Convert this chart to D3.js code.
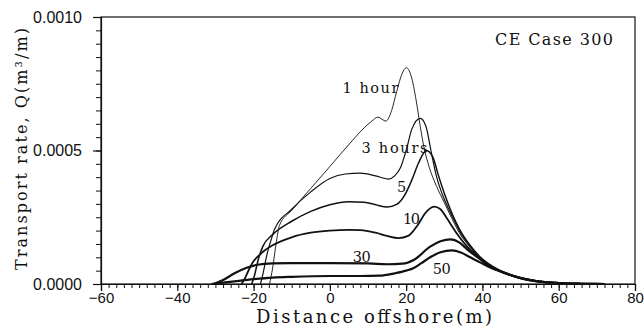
<!DOCTYPE html>
<html>
<head>
<meta charset="utf-8">
<script src="https://cdn.jsdelivr.net/npm/d3@7"></script>
<style>
  html, body { margin: 0; padding: 0; background: #fff; }
  svg { display: block; }
  .tick text { font-family: "Liberation Sans", Arial, sans-serif; fill: #111; }
  .serif { font-family: "DejaVu Serif", "Liberation Serif", serif; fill: #111; }
</style>
</head>
<body>
<svg id="chart" width="644" height="329"></svg>
<script>
// ---- Data (distance offshore in m, transport rate in 1e-4 m^3/m) ----
const seriesNames = ["1 hour", "3 hours", "5", "10", "30", "50"];

const dist1 = [-15.8, -15.0, -14.1, -13.2, -10, -5, 0, 6, 9, 11, 12.6, 14.7, 16.2, 17.5, 19, 20, 21.3, 22.6, 23.7, 24.7, 26, 28, 30, 32, 34, 36.5, 39.5, 44.7, 50, 55, 60, 66, 72];
const q1    = [0, 0.6, 1.5, 2.2, 2.76, 3.58, 4.4, 5.39, 5.85, 6.1, 6.25, 6.1, 6.5, 7.2, 7.9, 8.1, 7.8, 6.9, 5.9, 5.1, 4.4, 3.65, 3.05, 2.45, 1.9, 1.42, 0.93, 0.47, 0.22, 0.09, 0.036, 0.01, 0];

const dist3 = [-18.2, -17.5, -16.5, -15.3, -14.5, -10, -5, 0, 4, 8, 12, 15.3, 17, 18.5, 20, 21.5, 23.7, 25.2, 26.5, 28, 29.5, 32, 34, 36.5, 39.5, 44.7, 50, 55, 60, 66, 72];
const q3    = [0, 0.4, 1.1, 1.7, 2.05, 2.8, 3.45, 3.95, 4.12, 4.15, 4.05, 3.93, 4.05, 4.35, 5.0, 5.8, 6.2, 5.9, 5.0, 4.0, 3.35, 2.55, 1.98, 1.46, 0.96, 0.49, 0.23, 0.095, 0.038, 0.011, 0];

const dist5 = [-20.5, -19.8, -18.8, -17.6, -15, -10, -5, 0, 5, 9, 12, 15, 17.5, 19.7, 21.5, 23.3, 25.3, 27, 28.5, 30, 32, 34, 36.5, 39.5, 44.7, 50, 55, 60, 66, 72];
const q5    = [0, 0.3, 0.9, 1.4, 1.85, 2.35, 2.72, 2.97, 3.08, 3.06, 2.97, 2.88, 2.98, 3.35, 3.9, 4.55, 5.0, 4.75, 4.05, 3.4, 2.65, 2.05, 1.5, 1.0, 0.5, 0.24, 0.1, 0.04, 0.012, 0];

const dist10 = [-23.2, -22.5, -21.5, -20.3, -18, -15, -10, -5, 0, 5, 8, 12, 15, 18, 20.5, 23, 25, 27.3, 29, 30.5, 33, 36, 39.5, 44.7, 50, 55, 60, 66, 72];
const q10    = [0, 0.15, 0.45, 0.79, 1.15, 1.45, 1.75, 1.92, 2.0, 2.03, 2.02, 1.92, 1.8, 1.72, 1.8, 2.2, 2.65, 2.9, 2.8, 2.5, 1.95, 1.4, 0.92, 0.46, 0.22, 0.09, 0.035, 0.01, 0];

const dist30 = [-30.5, -28, -25, -22, -19, -15, -10, 0, 10, 15, 19, 22, 26.3, 29, 31.6, 34, 36, 39.5, 42, 45, 50, 55, 60, 66, 72];
const q30    = [0, 0.15, 0.4, 0.6, 0.72, 0.77, 0.78, 0.78, 0.77, 0.74, 0.76, 0.9, 1.4, 1.6, 1.67, 1.55, 1.3, 0.92, 0.68, 0.47, 0.22, 0.09, 0.035, 0.01, 0];

const dist50 = [-31, -28, -25, -20, -15, -10, 0, 8, 13, 17, 20, 22, 24, 26.3, 29, 32, 34.5, 36.8, 39.5, 42, 45, 50, 55, 60, 66, 72];
const q50    = [0, 0.05, 0.1, 0.18, 0.24, 0.27, 0.3, 0.3, 0.31, 0.4, 0.5, 0.6, 0.78, 1.0, 1.19, 1.26, 1.17, 1.0, 0.8, 0.62, 0.46, 0.22, 0.09, 0.035, 0.01, 0];

const xTicks = [-60, -40, -20, 0, 20, 40, 60, 80];
const yTicks = [0, 0.0005, 0.0010];

// label anchor points (data coordinates)
const labelDist = [3.3, 8.3, 17.6, 19.2, 6.0, 27.0];
const labelQ    = [7.15, 4.9, 3.45, 2.25, 0.82, 0.37];

const seriesDist = [dist1, dist3, dist5, dist10, dist30, dist50];
const seriesQ = [q1, q3, q5, q10, q30, q50];

// ---- Drawing ----
const svg = d3.select("#chart");
const mLeft = 101, mRight = 635, mTop = 17, mBottom = 284;

const x = d3.scaleLinear().domain([-60, 80]).range([mLeft, mRight]);
const y = d3.scaleLinear().domain([0, 0.0010]).range([mBottom, mTop]);

const widths = [0.9, 1.2, 1.5, 1.8, 2.2, 2.2];
const labelLens = [56, 66, 10, 17, 18, 18];

// frame
svg.append("rect")
  .attr("x", mLeft).attr("y", mTop)
  .attr("width", mRight - mLeft).attr("height", mBottom - mTop)
  .attr("fill", "none").attr("stroke", "#111").attr("stroke-width", 1.2);

// y axis minor ticks
const yMinor = d3.range(0, 0.00100001, 0.00005);
svg.append("g").attr("transform", `translate(${mLeft},0)`)
  .call(d3.axisLeft(y).tickValues(yMinor).tickSize(5).tickFormat(""))
  .call(g => g.select(".domain").remove())
  .selectAll("line").attr("stroke", "#111").attr("stroke-width", 1);

// y axis majors
const yAxis = svg.append("g").attr("transform", `translate(${mLeft},0)`)
  .call(d3.axisLeft(y).tickValues(yTicks).tickSize(8).tickPadding(11).tickFormat(d3.format(".4f")));
yAxis.select(".domain").attr("stroke", "#111").attr("stroke-width", 1.2);
yAxis.selectAll("line").attr("stroke", "#111").attr("stroke-width", 1.2);
yAxis.selectAll("text").attr("font-size", 16).attr("fill", "#111");

// x axis minor ticks
const xMinor = d3.range(-60, 80.001, 2);
svg.append("g").attr("transform", `translate(0,${mBottom})`)
  .call(d3.axisBottom(x).tickValues(xMinor).tickSize(4).tickFormat(""))
  .call(g => g.select(".domain").remove())
  .selectAll("line").attr("stroke", "#111").attr("stroke-width", 1);

// x axis majors
const xAxis = svg.append("g").attr("transform", `translate(0,${mBottom})`)
  .call(d3.axisBottom(x).tickValues(xTicks).tickSize(7).tickPadding(1)
    .tickFormat(d => d < 0 ? "\u2212" + Math.abs(d) : String(d)));
xAxis.select(".domain").attr("stroke", "#111").attr("stroke-width", 1.2);
xAxis.selectAll("line").attr("stroke", "#111").attr("stroke-width", 1.2);
xAxis.selectAll("text").attr("font-size", 15).attr("fill", "#111");

// lines
const line = d3.line()
  .x(d => x(d[0]))
  .y(d => y(d[1] * 1e-4))
  .curve(d3.curveMonotoneX);

seriesDist.forEach((dist, i) => {
  const pts = dist.map((v, j) => [v, seriesQ[i][j]]);
  svg.append("path")
    .datum(pts)
    .attr("d", line)
    .attr("fill", "none")
    .attr("stroke", "#111")
    .attr("stroke-width", widths[i])
    .attr("stroke-linejoin", "round");
});

// series labels
seriesNames.forEach((name, i) => {
  svg.append("text").attr("class", "serif")
    .attr("x", x(labelDist[i]))
    .attr("y", y(labelQ[i] * 1e-4))
    .attr("font-size", 14.5)
    .attr("textLength", labelLens[i])
    .attr("lengthAdjust", "spacing")
    .text(name);
});

// case label
svg.append("text").attr("class", "serif")
  .attr("x", 495).attr("y", 45).attr("font-size", 16)
  .attr("textLength", 118).attr("lengthAdjust", "spacing")
  .text("CE Case 300");

// axis titles
svg.append("text").attr("class", "serif")
  .attr("x", 256).attr("y", 323)
  .attr("font-size", 18)
  .attr("textLength", 236).attr("lengthAdjust", "spacing")
  .text("Distance offshore(m)");

svg.append("text").attr("class", "serif")
  .attr("transform", "translate(27,270) rotate(-90)")
  .attr("font-size", 16)
  .attr("textLength", 242).attr("lengthAdjust", "spacing")
  .text("Transport rate, Q(m\u00b3/m)");
</script>
</body>
</html>
